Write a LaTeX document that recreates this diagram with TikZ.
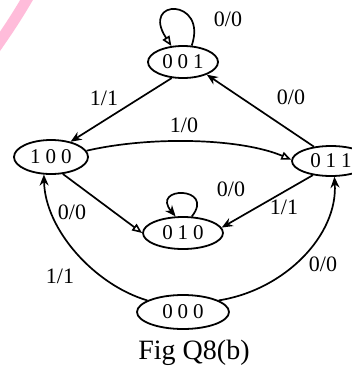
\documentclass[tikz,border=0pt]{standalone}
\usepackage{fontspec}
\setmainfont{Liberation Serif}
\usetikzlibrary{arrows.meta,shapes.geometric}
\definecolor{arcpink}{RGB}{255,188,218}
\newcommand{\sg}{\hspace{5pt}}
\tikzset{
  state/.style={ellipse,draw,line width=1.8pt,inner sep=0pt,font=\fontsize{21}{21}\selectfont},
  edge/.style={line width=1.7pt,-{Stealth[length=11pt,width=9pt]}},
  oedge/.style={line width=1.7pt,-{Triangle[open,length=10pt,width=8pt,line width=1.6pt]}},
  lbl/.style={font=\fontsize{22}{22}\selectfont,inner sep=0pt}
}
\begin{document}
\begin{tikzpicture}[x=1pt,y=-1pt]
\useasboundingbox (0,0) rectangle (352,376);
\fill[white] (0,0) rectangle (352,376);
\draw[arcpink,line width=11pt] (-6,50) .. controls (8,30) and (18,15) .. (30,-6);

\node[state,minimum width=70pt,minimum height=32pt] (s001) at (183,62) {0\sg0\sg1};
\node[state,minimum width=74pt,minimum height=34pt] (s100) at (51,157) {1\sg0\sg0};
\node[state,minimum width=78pt,minimum height=30pt] (s011) at (331,161) {0\sg1\sg1};
\node[state,minimum width=80pt,minimum height=32pt] (s010) at (183,233) {0\sg1\sg0};
\node[state,minimum width=92pt,minimum height=34pt] (s000) at (183,312) {0\sg0\sg0};

% 001 self-loop
\draw[oedge] (s001.62) .. controls (208,-2) and (140,-2) .. (s001.126);
\node[lbl] (l1) at (228,19) {0/0};

% 001 -> 100
\draw[edge] (s001.235) -- (s100.38);
\node[lbl] (l2) at (104,98) {1/1};

% 011 -> 001
\draw[edge] (s011.140) -- (s001.-28);
\node[lbl] (l3) at (291,97) {0/0};

% 100 -> 011
\draw[oedge] (s100.10) .. controls (150,136) and (240,138) .. (s011.178);
\node[lbl] (l4) at (184,125) {1/0};

% 100 -> 010
\draw[oedge] (s100.-55) -- (s010.180);
\node[lbl] (l5) at (72,212) {0/0};

% 011 -> 010
\draw[edge] (s011.218) -- (s010.8);
\node[lbl] (l6) at (284,207) {1/1};

% 010 self-loop
\draw[edge] (s010.62) .. controls (216,186) and (150,186) .. (s010.114);
\node[lbl] (l7) at (231,189) {0/0};

% 000 -> 100
\draw[edge] (s000.162) .. controls (95,285) and (45,230) .. (s100.-112);
\node[lbl] (l8) at (60,276) {1/1};

% 000 -> 011
\draw[edge] (s000.18) .. controls (285,290) and (338,235) .. (s011.-78);
\node[lbl] (l9) at (323,264) {0/0};

\node[font=\fontsize{28}{28}\selectfont,inner sep=0pt] (cap) at (194,353) {Fig Q8(b)};
\end{tikzpicture}
\end{document}
